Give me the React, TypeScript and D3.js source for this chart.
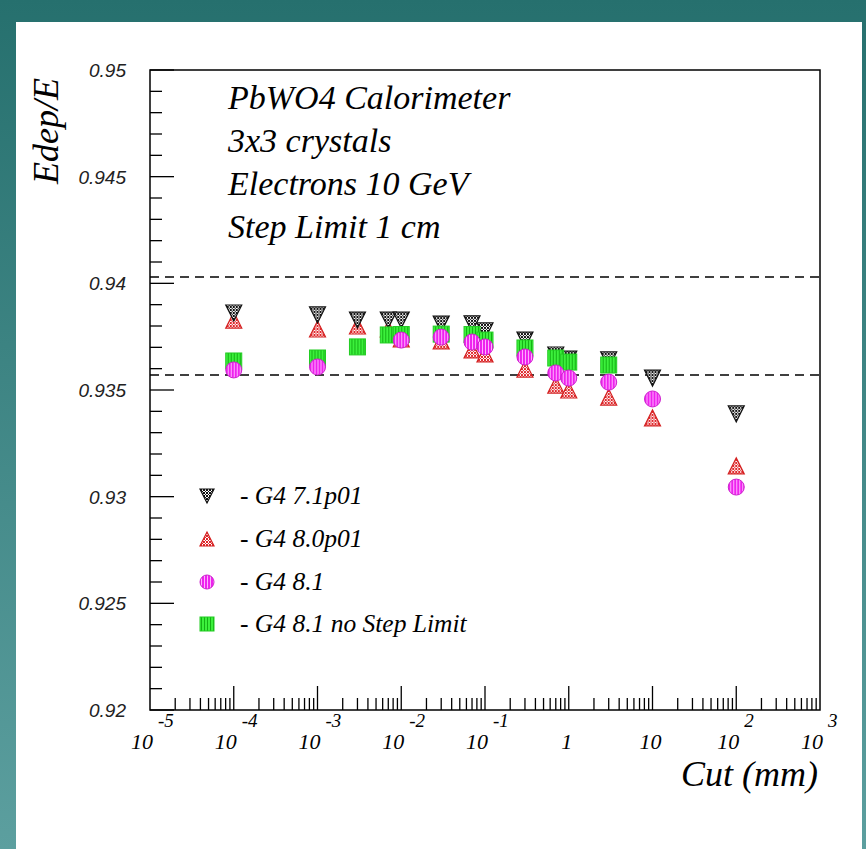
import * as d3 from "d3";
import { useEffect, useRef } from "react";

// cut values (mm)
const cuts = [1e-4, 1e-3, 3e-3, 7e-3, 1e-2, 3e-2, 7e-2, 0.1, 0.3, 0.7, 1, 3, 10, 100];

const g4_71p01 = [0.93861, 0.93852, 0.93828, 0.93828, 0.93828, 0.93809, 0.9381, 0.93777, 0.93734, 0.93664, 0.93645, 0.93641, 0.93556, 0.93388];
const g4_80p01 = [0.93828, 0.93786, 0.938, 0.93786, 0.9374, 0.9373, 0.93688, 0.93669, 0.93598, 0.93523, 0.935, 0.93467, 0.93369, 0.93144];
const g4_81 = [0.93594, 0.93608, null, null, 0.93734, 0.93748, 0.93725, 0.93702, 0.93655, 0.9358, 0.93556, 0.93537, 0.93458, 0.93045];
const g4_81noStep = [0.93636, 0.9365, 0.93702, 0.93758, 0.9376, 0.93762, 0.9376, 0.93734, 0.93697, 0.9365, 0.93631, 0.93617, null, null];

const bandLines = [0.9403, 0.9357];

const yTicks = [0.92, 0.925, 0.93, 0.935, 0.94, 0.945, 0.95];
const yTickLabels = ["0.92", "0.925", "0.93", "0.935", "0.94", "0.945", "0.95"];
const xExponents = [-5, -4, -3, -2, -1, 0, 1, 2, 3];

const infoLines = ["PbWO4 Calorimeter", "3x3 crystals", "Electrons 10 GeV", "Step Limit 1 cm"];
const legendLabels = ["- G4 7.1p01", "- G4 8.0p01", "- G4 8.1", "- G4 8.1 no Step Limit"];

const W = 866, H = 849;
const serif = "'Liberation Serif', 'DejaVu Serif', serif";
const sans = "'Liberation Sans', 'DejaVu Sans', sans-serif";

const App = () => {
  const ref = useRef<SVGSVGElement>(null);

  useEffect(() => {
    const root = d3.select(ref.current);
    root.selectAll("*").remove();

    const margin = { top: 70, right: 46, bottom: 139, left: 150 };
    const width = W - margin.left - margin.right,
      height = H - margin.top - margin.bottom;

    const defs = root.append("defs");
    const grad = defs.append("linearGradient").attr("id", "bg").attr("x1", 0).attr("y1", 0).attr("x2", 0).attr("y2", 1);
    grad.append("stop").attr("offset", "0%").attr("stop-color", "#26706e");
    grad.append("stop").attr("offset", "100%").attr("stop-color", "#5c9f9f");

    const hatch = (id, col) => {
      const p = defs.append("pattern").attr("id", id).attr("patternUnits", "userSpaceOnUse").attr("width", 3).attr("height", 3);
      p.append("rect").attr("width", 3).attr("height", 3).attr("fill", "#fff");
      p.append("path").attr("d", "M0,0L3,3M3,0L0,3").attr("stroke", col).attr("stroke-width", 1);
    };
    const stripes = (id, bg, fg) => {
      const p = defs.append("pattern").attr("id", id).attr("patternUnits", "userSpaceOnUse").attr("width", 3).attr("height", 3);
      p.append("rect").attr("width", 3).attr("height", 3).attr("fill", bg);
      p.append("rect").attr("x", 0).attr("width", 1).attr("height", 3).attr("fill", fg);
    };
    hatch("hBlack", "#111");
    hatch("hRed", "#e0262a");
    stripes("sMag", "#ee22ee", "#ffb0ff");
    stripes("sGreen", "#3cf03c", "#14b014");

    // background and panel
    root.append("rect").attr("width", W).attr("height", H).attr("fill", "url(#bg)");
    root.append("rect").attr("x", 16).attr("y", 22).attr("width", 846).attr("height", H - 22).attr("fill", "#fff");

    const svg = root.append("g").attr("transform", `translate(${margin.left},${margin.top})`);

    const x = d3.scaleLog().domain([1e-5, 1e3]).range([0, width]);
    const y = d3.scaleLinear().domain([0.92, 0.95]).range([height, 0]);

    // y ticks (inside)
    d3.range(0, 31).forEach((i) => {
      const v = 0.92 + i * 0.001;
      const len = i % 5 === 0 ? 24 : 12;
      svg.append("line").attr("x1", 0).attr("x2", len).attr("y1", y(v)).attr("y2", y(v)).attr("stroke", "#000").attr("stroke-width", 1.3);
    });
    svg.selectAll("ylab").data(yTicks).join("text")
      .attr("x", -24).attr("y", (d) => y(d) + 7)
      .attr("text-anchor", "end").attr("font-family", sans).attr("font-style", "italic")
      .attr("font-size", 19).attr("fill", "#222")
      .text((d, i) => yTickLabels[i]);

    // x ticks (inside)
    for (let e = -5; e < 3; e++) {
      for (let m = 1; m <= 9; m++) {
        const v = m * Math.pow(10, e);
        if (e === -5 && m === 1) continue;
        const len = m === 1 ? 24 : 12;
        svg.append("line").attr("x1", x(v)).attr("x2", x(v)).attr("y1", height).attr("y2", height - len).attr("stroke", "#000").attr("stroke-width", 1.3);
      }
    }
    const xl = svg.selectAll("xlab").data(xExponents).join("g").attr("transform", (d) => `translate(${x(Math.pow(10, d))},0)`);
    xl.append("text")
      .attr("x", (d) => (d === 0 || d === 1 ? -2 : 3)).attr("y", height + 39)
      .attr("text-anchor", (d) => (d === 0 || d === 1 ? "middle" : "end"))
      .attr("font-family", serif).attr("font-style", "italic").attr("font-size", 22)
      .text((d) => (d === 0 ? "1" : "10"));
    xl.filter((d) => d !== 0 && d !== 1).append("text")
      .attr("x", 8).attr("y", height + 17)
      .attr("font-family", serif).attr("font-style", "italic").attr("font-size", 19)
      .text((d) => String(d));

    // frame
    svg.append("rect").attr("width", width).attr("height", height).attr("fill", "none").attr("stroke", "#000").attr("stroke-width", 1.5);

    // dashed band
    svg.selectAll("band").data(bandLines).join("line")
      .attr("x1", 0).attr("x2", width).attr("y1", (d) => y(d)).attr("y2", (d) => y(d))
      .attr("stroke", "#000").attr("stroke-width", 1.4).attr("stroke-dasharray", "9 6");

    // markers
    const tri = (s, down) => down
      ? `M${-s},${-s}L${s},${-s}L0,${s}Z`
      : `M${-s},${s}L${s},${s}L0,${-s}Z`;
    const series = [
      { vals: g4_80p01, shape: "up", fill: "url(#hRed)", stroke: "#d42020" },
      { vals: g4_71p01, shape: "down", fill: "url(#hBlack)", stroke: "#111" },
      { vals: g4_81noStep, shape: "square", fill: "url(#sGreen)", stroke: "#22cc22" },
      { vals: g4_81, shape: "circle", fill: "url(#sMag)", stroke: "#cc22cc" },
    ];
    const drawMarker = (g, shape, s, fill, stroke) => {
      if (shape === "circle") g.append("circle").attr("r", s).attr("fill", fill).attr("stroke", stroke).attr("stroke-width", 1);
      else if (shape === "square") g.append("rect").attr("x", -s).attr("y", -s).attr("width", 2 * s).attr("height", 2 * s).attr("fill", fill).attr("stroke", stroke).attr("stroke-width", 1);
      else g.append("path").attr("d", tri(s, shape === "down")).attr("fill", fill).attr("stroke", stroke).attr("stroke-width", 1.2);
    };
    series.forEach((sr) => {
      cuts.forEach((c, i) => {
        const v = sr.vals[i];
        if (v == null) return;
        const g = svg.append("g").attr("transform", `translate(${x(c)},${y(v)})`);
        drawMarker(g, sr.shape, 8, sr.fill, sr.stroke);
      });
    });

    // legend
    const legend = [
      { shape: "down", fill: "url(#hBlack)", stroke: "#111" },
      { shape: "up", fill: "url(#hRed)", stroke: "#d42020" },
      { shape: "circle", fill: "url(#sMag)", stroke: "#cc22cc" },
      { shape: "square", fill: "url(#sGreen)", stroke: "#22cc22" },
    ];
    const legY = [496, 539, 582, 624];
    legend.forEach((l, i) => {
      const g = root.append("g").attr("transform", `translate(207,${legY[i]})`);
      drawMarker(g, l.shape, 7, l.fill, l.stroke);
      g.append("text").attr("x", 33).attr("y", 8)
        .attr("font-family", serif).attr("font-style", "italic").attr("font-size", 25.5)
        .text(legendLabels[i]);
    });

    // info text
    root.selectAll("info").data(infoLines).join("text")
      .attr("x", 228).attr("y", (d, i) => 109 + i * 43)
      .attr("font-family", serif).attr("font-style", "italic").attr("font-size", 34)
      .text((d) => d);

    // axis titles
    root.append("text").attr("x", 818).attr("y", 786).attr("text-anchor", "end")
      .attr("font-family", serif).attr("font-style", "italic").attr("font-size", 36)
      .text("Cut (mm)");
    root.append("text").attr("transform", "translate(58,78) rotate(-90)").attr("text-anchor", "end")
      .attr("font-family", serif).attr("font-style", "italic").attr("font-size", 36)
      .text("Edep/E");
  }, []);

  return <svg ref={ref} width={W} height={H} style={{ position: "absolute", left: 0, top: 0 }} />;
};

export default App;
